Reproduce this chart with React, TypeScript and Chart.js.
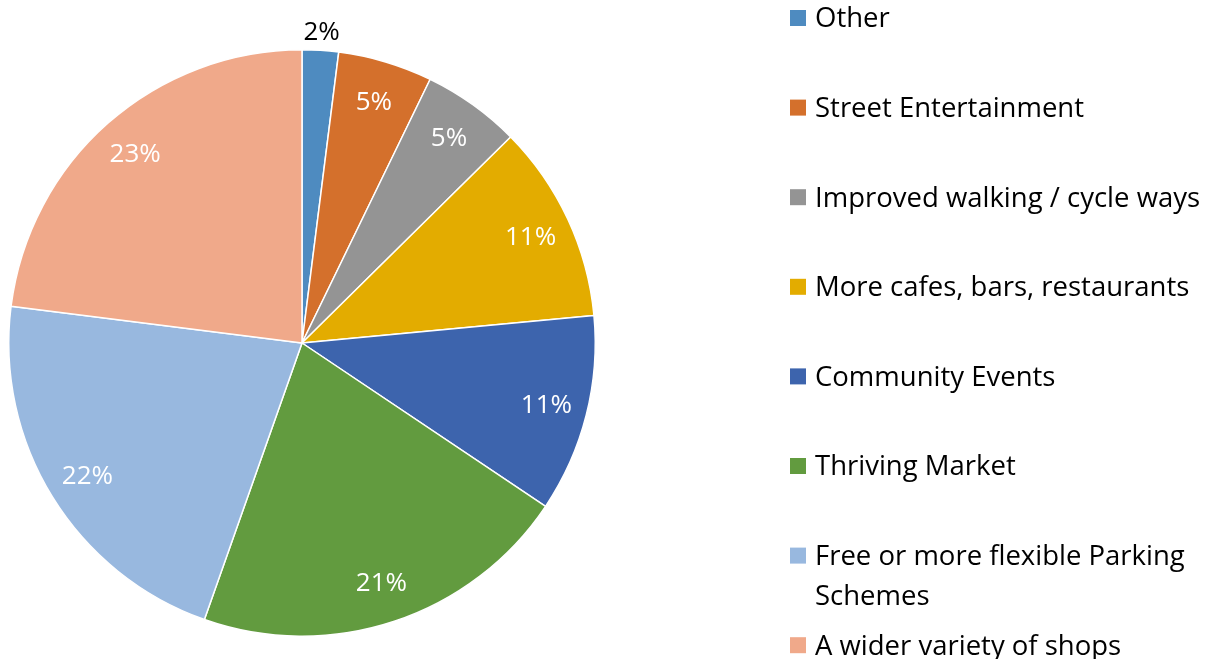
import React, { useEffect, useRef } from "react";
import { Chart, registerables } from "chart.js";

Chart.register(...registerables);

const categories: string[][] = [
  ["Other"],
  ["Street Entertainment"],
  ["Improved walking / cycle ways"],
  ["More cafes, bars, restaurants"],
  ["Community Events"],
  ["Thriving Market"],
  ["Free or more flexible Parking", "Schemes"],
  ["A wider variety of shops"],
];
const values: number[] = [2, 5.2, 5.4, 10.9, 10.9, 21, 21.6, 23];
const colors: string[] = [
  "#4E8BC0",
  "#D4702C",
  "#949494",
  "#E3AC00",
  "#3D64AD",
  "#629B3F",
  "#98B8DF",
  "#F0A98A",
];
const labelColors: string[] = ["#000000", "#FFFFFF", "#FFFFFF", "#FFFFFF", "#FFFFFF", "#FFFFFF", "#FFFFFF", "#FFFFFF"];
const outsideLabel: boolean[] = [true, false, false, false, false, false, false, false];

const FONT = "'Open Sans', Lato, sans-serif";

const labelPlugin = {
  id: "pctLabels",
  afterDatasetsDraw(chart: any) {
    const ctx = chart.ctx;
    const meta = chart.getDatasetMeta(0);
    const total = values.reduce((a, b) => a + b, 0);
    ctx.save();
    ctx.font = `26px ${FONT}`;
    ctx.textAlign = "center";
    ctx.textBaseline = "middle";
    meta.data.forEach((arc: any, i: number) => {
      const { x, y, startAngle, endAngle, outerRadius } = arc.getProps(
        ["x", "y", "startAngle", "endAngle", "outerRadius"],
        true
      );
      const mid = (startAngle + endAngle) / 2;
      const r = outsideLabel[i] ? outerRadius * 1.065 : outerRadius * 0.86;
      const lx = x + Math.cos(mid) * r;
      const ly = y + Math.sin(mid) * r;
      ctx.fillStyle = labelColors[i];
      ctx.fillText(Math.round((values[i] / total) * 100) + "%", lx, ly + 1);
    });
    ctx.restore();
  },
};

const legendPlugin = {
  id: "sideLegend",
  afterDraw(chart: any) {
    const ctx = chart.ctx;
    ctx.save();
    ctx.font = `27.5px ${FONT}`;
    ctx.textAlign = "left";
    ctx.textBaseline = "middle";
    const startY = 18;
    const step = 89.6;
    const lineH = 40;
    categories.forEach((lines, i) => {
      const cy = startY + i * step;
      ctx.fillStyle = colors[i];
      ctx.fillRect(790, cy - 8, 16, 16);
      ctx.fillStyle = "#000000";
      lines.forEach((t, j) => ctx.fillText(t, 815, cy + 1.5 + j * lineH));
    });
    ctx.restore();
  },
};

export default function App() {
  const ref = useRef<HTMLCanvasElement>(null);
  useEffect(() => {
    if (!ref.current) return;
    const chart = new Chart(ref.current, {
      type: "pie",
      data: {
        labels: categories.map((c) => c.join(" ")),
        datasets: [
          {
            data: values,
            backgroundColor: colors,
            borderColor: "#FFFFFF",
            borderWidth: 1.5,
          },
        ],
      },
      options: {
        responsive: false,
        animation: false,
        layout: { padding: { left: 8, right: 633, top: 49, bottom: 22 } },
        plugins: {
          legend: { display: false },
          tooltip: { enabled: false },
        },
      },
      plugins: [labelPlugin, legendPlugin],
    });
    return () => chart.destroy();
  }, []);
  return (
    <div style={{ position: "absolute", left: 0, top: 0, width: 1229, height: 659, background: "#fff" }}>
      <canvas ref={ref} width={1229} height={659} style={{ width: 1229, height: 659 }} />
    </div>
  );
}
